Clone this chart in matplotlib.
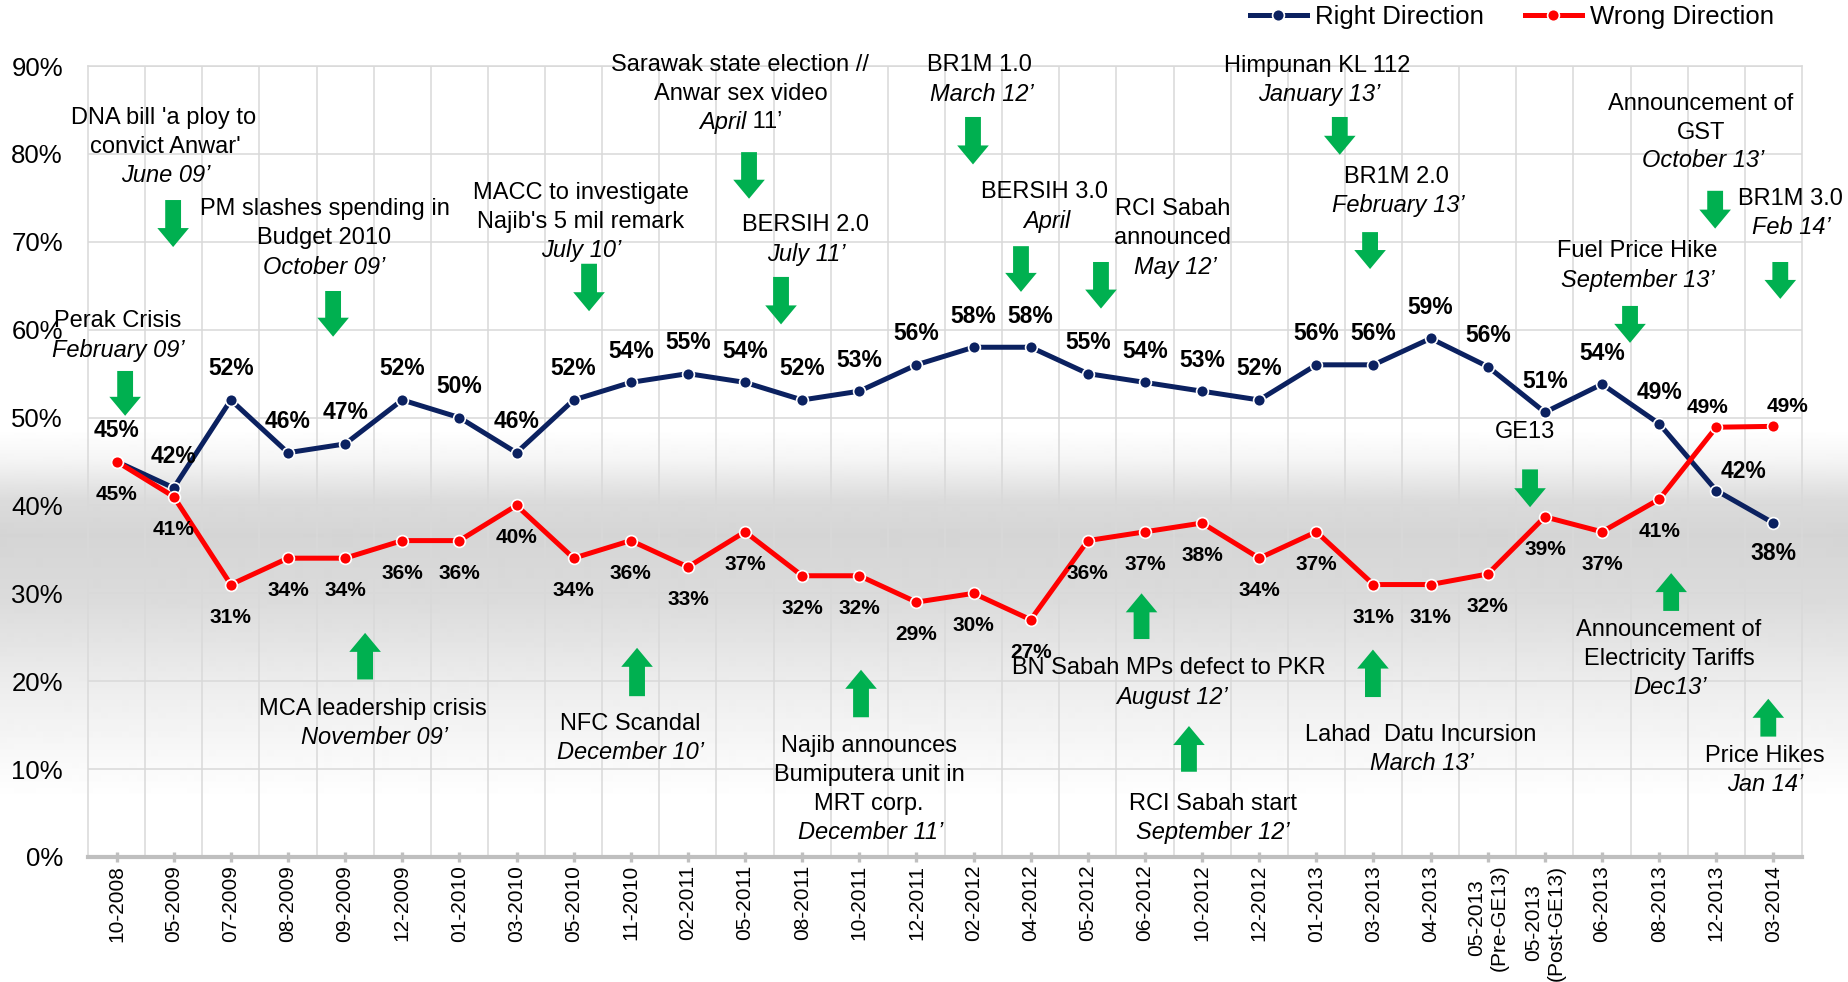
import matplotlib
matplotlib.use('Agg')
import matplotlib.pyplot as plt
from matplotlib.patches import FancyArrow
from matplotlib.lines import Line2D
import numpy as np

plt.rcParams['font.family'] = ['Liberation Sans', 'DejaVu Sans']

# survey waves
periods = ['10-2008', '05-2009', '07-2009', '08-2009', '09-2009', '12-2009',
           '01-2010', '03-2010', '05-2010', '11-2010', '02-2011', '05-2011',
           '08-2011', '10-2011', '12-2011', '02-2012', '04-2012', '05-2012',
           '06-2012', '10-2012', '12-2012', '01-2013', '03-2013', '04-2013',
           '05-2013\n(Pre-GE13)', '05-2013\n(Post-GE13)', '06-2013', '08-2013',
           '12-2013', '03-2014']
right_dir = [45, 42, 52, 46, 47, 52, 50, 46, 52, 54, 55, 54, 52, 53, 56, 58, 58,
             55, 54, 53, 52, 56, 56, 59, 55.8, 50.6, 53.8, 49.3, 41.7, 38]
wrong_dir = [45, 41, 31, 34, 34, 36, 36, 40, 34, 36, 33, 37, 32, 32, 29, 30, 27,
             36, 37, 38, 34, 37, 31, 31, 32.2, 38.7, 37, 40.7, 48.9, 49]

NAVY = '#0b2160'
RED = '#ff0000'
GREEN = '#00b050'
GRID = '#d9d9d9'
AXIS = '#bfbfbf'

# event notes: (x, y, text, italic, align)
notes = [
    (0.02, 61.0, 'Perak Crisis', False, 'center'), (0.03, 57.6, 'February 09’', True, 'center'),
    (0.83, 84.1, "DNA bill 'a ploy to", False, 'center'),
    (0.85, 80.8, "convict Anwar'", False, 'center'),
    (0.86, 77.5, 'June 09’', True, 'center'),
    (3.64, 73.7, 'PM slashes spending in', False, 'center'),
    (3.63, 70.4, 'Budget 2010', False, 'center'),
    (3.64, 67.1, 'October 09’', True, 'center'),
    (8.12, 75.5, 'MACC to investigate', False, 'center'),
    (8.12, 72.3, "Najib's 5 mil remark", False, 'center'),
    (8.13, 69.0, 'July 10’', True, 'center'),
    (10.91, 90.1, 'Sarawak state election //', False, 'center'),
    (10.93, 86.8, 'Anwar sex video', False, 'center'),
    (11.02, 83.6, 'April', True, 'right'), (11.02, 83.6, ' 11’', False, 'left'),
    (12.05, 71.9, 'BERSIH 2.0', False, 'center'), (12.07, 68.6, 'July 11’', True, 'center'),
    (15.11, 90.1, 'BR1M 1.0', False, 'center'), (15.15, 86.8, 'March 12’', True, 'center'),
    (16.25, 75.7, 'BERSIH 3.0', False, 'center'), (16.29, 72.3, 'April', True, 'center'),
    (18.49, 73.7, 'RCI Sabah', False, 'center'), (18.49, 70.4, 'announced', False, 'center'),
    (18.53, 67.1, 'May 12’', True, 'center'),
    (21.01, 90.0, 'Himpunan KL 112', False, 'center'),
    (21.05, 86.8, 'January 13’', True, 'center'),
    (22.41, 77.4, 'BR1M 2.0', False, 'center'), (22.43, 74.1, 'February 13’', True, 'center'),
    (27.73, 85.7, 'Announcement of', False, 'center'), (27.73, 82.4, 'GST', False, 'center'),
    (27.77, 79.2, 'October 13’', True, 'center'),
    (29.29, 74.9, 'BR1M 3.0', False, 'center'), (29.31, 71.6, 'Feb 14’', True, 'center'),
    (26.61, 68.9, 'Fuel Price Hike', False, 'center'),
    (26.63, 65.6, 'September 13’', True, 'center'),
    (24.65, 48.4, 'GE13', False, 'center'),
    (4.48, 16.8, 'MCA leadership crisis', False, 'center'),
    (4.51, 13.6, 'November 09’', True, 'center'),
    (8.99, 15.1, 'NFC Scandal', False, 'center'), (8.99, 11.9, 'December 10’', True, 'center'),
    (13.17, 12.6, 'Najib announces', False, 'center'),
    (13.17, 9.3, 'Bumiputera unit in', False, 'center'),
    (13.17, 6.0, 'MRT corp.', False, 'center'), (13.19, 2.8, 'December 11’', True, 'center'),
    (18.42, 21.5, 'BN Sabah MPs defect to PKR', False, 'center'),
    (18.47, 18.2, 'August 12’', True, 'center'),
    (19.19, 6.0, 'RCI Sabah start', False, 'center'),
    (19.19, 2.8, 'September 12’', True, 'center'),
    (22.83, 13.9, 'Lahad  Datu Incursion', False, 'center'),
    (22.85, 10.6, 'March 13’', True, 'center'),
    (27.17, 25.8, 'Announcement of', False, 'center'),
    (27.17, 22.5, 'Electricity Tariffs', False, 'center'),
    (27.19, 19.3, 'Dec13’', True, 'center'),
    (28.85, 11.5, 'Price Hikes', False, 'center'), (28.86, 8.3, 'Jan 14’', True, 'center'),
]

# arrows: (x, y_from, y_to)
arrows = [
    (0.15, 55.3, 50.2), (0.99, 74.75, 69.4), (3.79, 64.4, 59.2), (8.27, 67.5, 62.1),
    (11.07, 80.2, 74.9), (11.63, 66.0, 60.6), (14.99, 84.2, 78.8), (15.83, 69.5, 64.3),
    (17.23, 67.7, 62.4), (21.41, 84.2, 79.9), (21.94, 71.1, 66.9), (27.98, 75.8, 71.5),
    (29.12, 67.7, 63.5), (26.49, 62.7, 58.5), (24.74, 44.1, 39.8),
    (4.35, 20.2, 25.5), (9.11, 18.3, 23.8), (13.03, 15.9, 21.3), (17.94, 24.8, 30.0),
    (18.77, 9.7, 14.9), (21.99, 18.2, 23.6), (27.21, 28.0, 32.3), (28.91, 13.7, 18.0),
]

fig = plt.figure(figsize=(18.48, 9.82), dpi=100)

# grey band behind the lower half
bg = fig.add_axes([0, 0, 1, 1], zorder=-1)
rows = np.arange(982)
shade = np.interp(rows, [0, 430, 460, 500, 535, 600, 680, 760, 800, 982],
                  [1, 1, .96, .86, .835, .86, .925, .975, 1, 1])
bg.imshow(shade[:, None], cmap='gray', vmin=0, vmax=1, aspect='auto',
          extent=[0, 1, 0, 1], origin='upper', interpolation='bilinear')
bg.axis('off')

ax = fig.add_axes([88 / 1848, 125 / 982, 1714 / 1848, 791 / 982])
ax.set_facecolor('none')
x = np.arange(len(periods))
ax.set_xlim(-0.5, len(periods) - 0.5)
ax.set_ylim(0, 90)

ax.set_yticks(range(0, 91, 10))
ax.set_yticklabels([f'{v}%' for v in range(0, 91, 10)], fontsize=18.5)
ax.tick_params(axis='y', length=0, pad=18)
ax.set_xticks(x)
ax.set_xticklabels(periods, rotation=90, fontsize=15, va='top', ha='center',
                   multialignment='center')
ax.tick_params(axis='x', which='major', direction='inout', length=7.2, width=2.4,
               color=AXIS, pad=2)
ax.set_xticks(np.arange(0.5, len(periods) - 1, 1), minor=True)
ax.tick_params(axis='x', which='minor', length=0)
ax.grid(axis='x', which='minor', color=GRID, lw=1.1)
ax.grid(axis='y', which='major', color=GRID, lw=1.1)
ax.set_axisbelow(True)
for s in ['left', 'right', 'top']:
    ax.spines[s].set_color(GRID)
    ax.spines[s].set_linewidth(1.1)
ax.spines['bottom'].set_color(AXIS)
ax.spines['bottom'].set_linewidth(3)

ax.plot(x, right_dir, color=NAVY, lw=3.6, marker='o', ms=8.5, mec='white', mew=1.2,
        zorder=4)
ax.plot(x, wrong_dir, color=RED, lw=3.6, marker='o', ms=8.5, mec='white', mew=1.2,
        zorder=5)

# value labels, offsets in pixels
right_off = {28: (27, 19), 29: (0, -30)}
wrong_off = {28: (-9, 20), 29: (14, 20)}
for i, v in enumerate(right_dir):
    dx, dy = right_off.get(i, (0, 31))
    ax.annotate(f'{round(v)}%', (i, v), xytext=(dx * 0.72, dy * 0.72),
                textcoords='offset points', ha='center', va='center',
                fontsize=16.5, fontweight='bold', zorder=6)
for i, v in enumerate(wrong_dir):
    dx, dy = wrong_off.get(i, (0, -32.5))
    ax.annotate(f'{round(v)}%', (i, v), xytext=(dx * 0.72, dy * 0.72),
                textcoords='offset points', ha='center', va='center',
                fontsize=15, fontweight='bold', zorder=6)

for nx, ny, txt, it, al in notes:
    ax.text(nx, ny, txt, ha=al, va='center', fontsize=17,
            style='italic' if it else 'normal', zorder=6)

for axx, y0, y1 in arrows:
    ax.add_patch(FancyArrow(axx, y0, 0, y1 - y0, width=0.277, head_width=0.553,
                            head_length=2.16, length_includes_head=True,
                            color=GREEN, lw=0, zorder=3))

handles = [Line2D([], [], color=NAVY, lw=3.6, marker='o', ms=8.5, mec='white', mew=1.2),
           Line2D([], [], color=RED, lw=3.6, marker='o', ms=8.5, mec='white', mew=1.2)]
fig.legend(handles, ['Right Direction', 'Wrong Direction'], loc='center left',
           bbox_to_anchor=(1250 / 1848, 1 - 17 / 982), ncol=2, frameon=False,
           fontsize=18.5, handlelength=2.2, handletextpad=0.33, columnspacing=1.6,
           borderpad=0, borderaxespad=0)

fig.savefig('out.png', dpi=100)
